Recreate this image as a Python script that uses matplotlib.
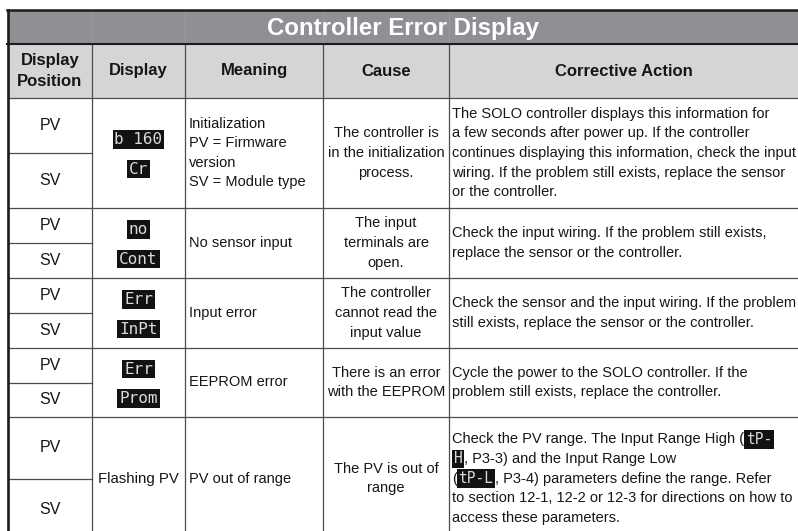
import re
import matplotlib
matplotlib.use("Agg")
import matplotlib.pyplot as plt
from matplotlib.patches import Rectangle
from matplotlib import font_manager as fm


def pick(fams):
    for f in fams:
        try:
            fm.findfont(fm.FontProperties(family=f), fallback_to_default=False)
            return f
        except Exception:
            pass
    return "DejaVu Sans"


SANS = pick(["Liberation Sans", "Arial"])
MONO = "DejaVu Sans Mono"

# ---------------- data ----------------
title = "Controller Error Display"
headers = ["Display\nPosition", "Display", "Meaning", "Cause", "Corrective Action"]
positions = ["PV", "SV"]
displays = [["b 160", "Cr"], ["no", "Cont"], ["Err", "InPt"], ["Err", "Prom"], ["Flashing PV"]]
display_is_badge = [True, True, True, True, False]
meanings = [
    ["Initialization", "PV = Firmware", "version", "SV = Module type"],
    ["No sensor input"],
    ["Input error"],
    ["EEPROM error"],
    ["PV out of range"],
]
causes = [
    ["The controller is", "in the initialization", "process."],
    ["The input", "terminals are", "open."],
    ["The controller", "cannot read the", "input value"],
    ["There is an error", "with the EEPROM"],
    ["The PV is out of", "range"],
]
actions = [
    ["The SOLO controller displays this information for",
     "a few seconds after power up. If the controller",
     "continues displaying this information, check the input",
     "wiring. If the problem still exists, replace the sensor",
     "or the controller."],
    ["Check the input wiring. If the problem still exists,",
     "replace the sensor or the controller."],
    ["Check the sensor and the input wiring. If the problem",
     "still exists, replace the sensor or the controller."],
    ["Cycle the power to the SOLO controller. If the",
     "problem still exists, replace the controller."],
    ["Check the PV range. The Input Range High ({tP-}",
     "{H}, P3-3) and the Input Range Low",
     "({tP-L}, P3-4) parameters define the range. Refer",
     "to section 12-1, 12-2 or 12-3 for directions on how to",
     "access these parameters."],
]

# ---------------- layout ----------------
W, H = 798, 531
col_x = [8, 92, 185, 323, 449, 800]
title_y = (10, 44)
head_y = (44, 98)
row_y = [98, 208, 278, 348, 417, 540]
LS = 19.6  # line spacing in px

TITLE_BG = "#8e9093"
HEAD_BG = "#d4d5d7"
LINE = "#4d4d4d"
DARK = "#1c1c1c"
TXT = "#161616"
BODY_FS = 10.5

fig = plt.figure(figsize=(W / 100, H / 100), dpi=100)
ax = fig.add_axes([0, 0, 1, 1])
ax.set_xlim(0, W)
ax.set_ylim(H, 0)
ax.axis("off")
renderer = fig.canvas.get_renderer()

# backgrounds
ax.add_patch(Rectangle((col_x[0], title_y[0]), W - col_x[0], title_y[1] - title_y[0],
                       fc=TITLE_BG, ec="none", zorder=0))
ax.add_patch(Rectangle((col_x[0], head_y[0]), W - col_x[0], head_y[1] - head_y[0],
                       fc=HEAD_BG, ec="none", zorder=0))

# faint verticals inside title bar
for x in col_x[1:5]:
    ax.plot([x, x], [title_y[0], title_y[1]], color="#9a9c9f", lw=0.6, zorder=1)

# grid lines
for x in col_x[1:5]:
    ax.plot([x, x], [head_y[0], row_y[-1]], color=LINE, lw=0.9, zorder=2)
for y in row_y[:-1]:
    ax.plot([col_x[0], W], [y, y], color=LINE, lw=0.9, zorder=2)
for i in range(len(row_y) - 1):
    mid = (row_y[i] + row_y[i + 1]) / 2
    ax.plot([col_x[0], col_x[1]], [mid, mid], color=LINE, lw=0.9, zorder=2)
ax.plot([col_x[0] - 1, W], [title_y[0], title_y[0]], color=DARK, lw=1.8, zorder=3)
ax.plot([col_x[0] - 1, W], [title_y[1], title_y[1]], color=DARK, lw=1.5, zorder=3)
ax.plot([col_x[0], col_x[0]], [title_y[0], H], color=DARK, lw=1.9, zorder=3)

# title
ax.text(403, (title_y[0] + title_y[1]) / 2 + 1, title, family=SANS, fontsize=17.3,
        fontweight="bold", color="white", ha="center", va="center", zorder=4)

# headers
for i, h in enumerate(headers):
    cx = (col_x[i] + min(col_x[i + 1], W)) / 2
    lines = h.split("\n")
    cy = (head_y[0] + head_y[1]) / 2
    for j, ln in enumerate(lines):
        y = cy + (j - (len(lines) - 1) / 2) * 20.5
        ax.text(cx, y, ln, family=SANS, fontsize=12, fontweight="bold", color=TXT,
                ha="center", va="center", zorder=4)


def badge(x, y, s, ha="center", fs=11.5):
    t = ax.text(x, y, s, family=MONO, fontsize=fs, color="#d9d9d9", ha=ha, va="center",
                zorder=5, bbox=dict(boxstyle="square,pad=0.12", fc="#121212", ec="none"))
    return t


def rich_line(x, y, s):
    parts = re.split(r"(\{[^}]*\})", s)
    for p in parts:
        if not p:
            continue
        if p.startswith("{"):
            pad = 1.6
            t = badge(x + pad, y, p[1:-1], ha="left", fs=10.5)
            x += t.get_window_extent(renderer).width + 2 * pad
        else:
            t = ax.text(x, y, p, family=SANS, fontsize=BODY_FS, color=TXT,
                        ha="left", va="center", zorder=4)
            x += t.get_window_extent(renderer).width


def block(lines, x, cy, ha):
    for j, ln in enumerate(lines):
        y = cy + (j - (len(lines) - 1) / 2) * LS
        if ha == "left":
            rich_line(x, y, ln)
        else:
            ax.text(x, y, ln, family=SANS, fontsize=BODY_FS, color=TXT,
                    ha=ha, va="center", zorder=4)


for i in range(len(row_y) - 1):
    top, bot = row_y[i], row_y[i + 1]
    cy = (top + bot) / 2
    # display position
    for k, p in enumerate(positions):
        py = top + (k + 0.5) * (bot - top) / 2
        ax.text((col_x[0] + col_x[1]) / 2, py, p, family=SANS, fontsize=11.5,
                color=TXT, ha="center", va="center", zorder=4)
    # display
    dcx = (col_x[1] + col_x[2]) / 2
    if display_is_badge[i]:
        for k, s in enumerate(displays[i]):
            badge(dcx, cy - 13.5 + k * 29.5, s)
    else:
        ax.text(dcx, cy, displays[i][0], family=SANS, fontsize=BODY_FS + 0.3, color=TXT,
                ha="center", va="center", zorder=4)
    block(meanings[i], col_x[2] + 4, cy, "left")
    block(causes[i], (col_x[3] + col_x[4]) / 2, cy, "center")
    block(actions[i], col_x[4] + 3, cy, "left")

fig.savefig("out.png", dpi=100)
